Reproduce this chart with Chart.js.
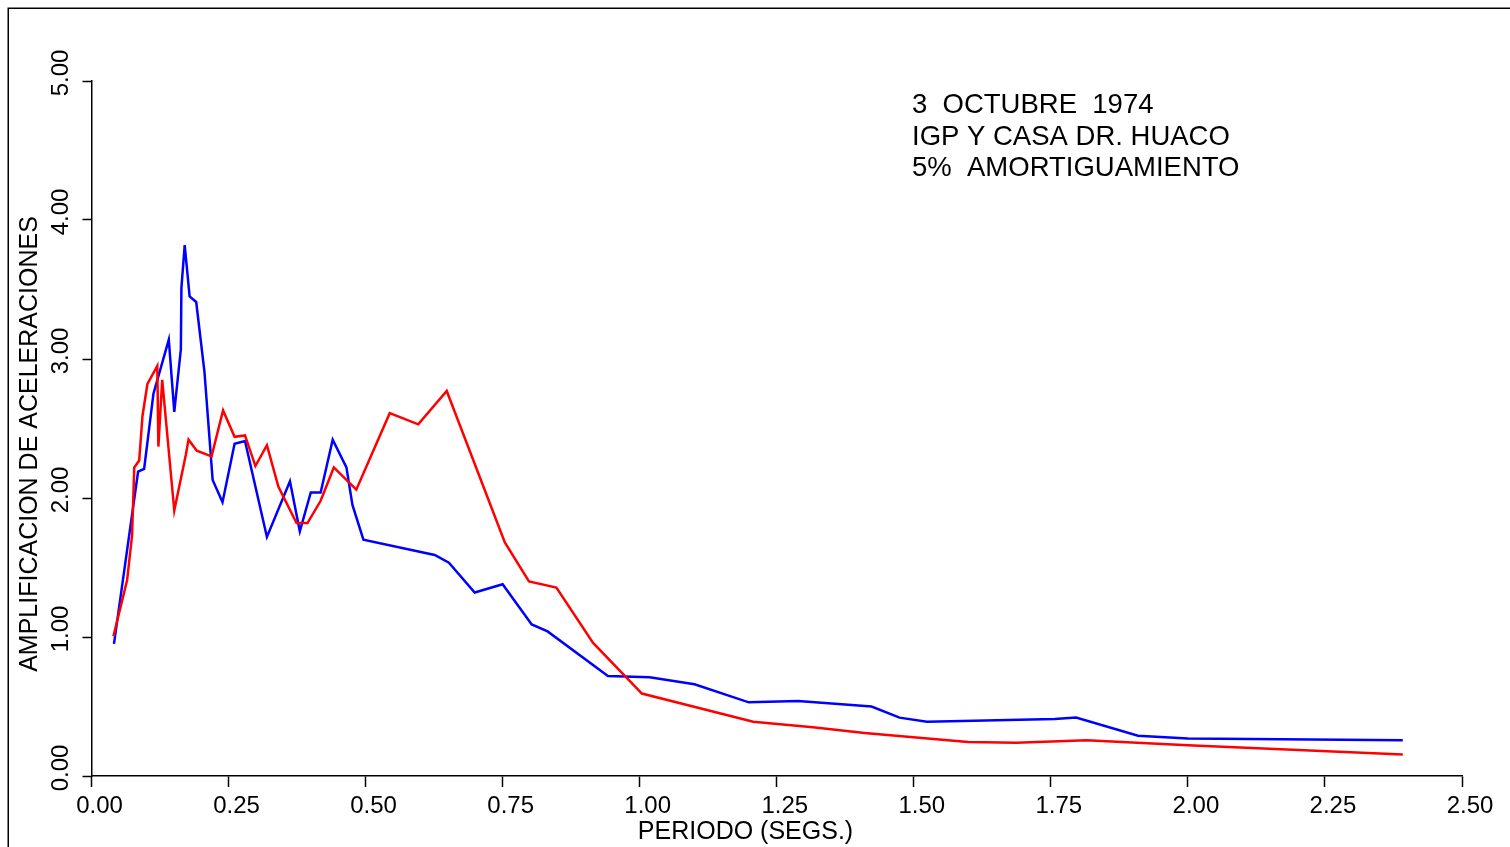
<!DOCTYPE html>
<html><head><meta charset="utf-8">
<script src="https://cdn.jsdelivr.net/npm/chart.js@4"></script>
<style>html,body{margin:0;padding:0;background:#fff;overflow:hidden}canvas{display:block}</style>
</head><body>
<canvas id="c" width="1510" height="847"></canvas>
<script>
// ---- data ----
const periodBlue = [0.041,0.085,0.096,0.113,0.141,0.151,0.163,0.164,0.170,0.179,0.191,0.206,0.221,0.239,0.261,0.280,0.320,0.362,0.380,0.400,0.418,0.440,0.465,0.476,0.496,0.626,0.652,0.699,0.750,0.803,0.832,0.942,1.018,1.100,1.199,1.289,1.423,1.474,1.524,1.757,1.796,1.909,2.000,2.392];
const amplBlue   = [0.95,2.19,2.21,2.75,3.14,2.62,3.07,3.51,3.82,3.45,3.41,2.91,2.13,1.97,2.39,2.41,1.72,2.12,1.76,2.04,2.04,2.42,2.22,1.95,1.70,1.59,1.535,1.32,1.38,1.09,1.04,0.72,0.71,0.66,0.53,0.54,0.50,0.42,0.39,0.41,0.42,0.29,0.269,0.257];
const periodRed  = [0.040,0.065,0.074,0.078,0.087,0.093,0.102,0.120,0.122,0.129,0.151,0.172,0.177,0.192,0.219,0.240,0.261,0.280,0.299,0.320,0.341,0.374,0.394,0.418,0.442,0.483,0.544,0.596,0.648,0.754,0.798,0.848,0.915,1.004,1.207,1.316,1.410,1.599,1.687,1.815,2.000,2.392];
const amplRed    = [1.005,1.41,1.73,2.22,2.27,2.59,2.82,2.95,2.37,2.85,1.91,2.31,2.42,2.34,2.30,2.63,2.44,2.45,2.23,2.38,2.08,1.82,1.82,1.98,2.22,2.06,2.61,2.53,2.77,1.68,1.40,1.355,0.957,0.593,0.39,0.35,0.31,0.245,0.24,0.257,0.221,0.154];

const xTickValues = [0,0.25,0.5,0.75,1,1.25,1.5,1.75,2,2.25,2.5];
const xTickLabels = ['0.00','0.25','0.50','0.75','1.00','1.25','1.50','1.75','2.00','2.25','2.50'];
const yTickValues = [0,1,2,3,4,5];
const yTickLabels = ['0.00','1.00','2.00','3.00','4.00','5.00'];
const xTitle = 'PERIODO (SEGS.)';
const yTitle = 'AMPLIFICACION DE ACELERACIONES';
const noteLines = ['3  OCTUBRE  1974','IGP Y CASA DR. HUACO','5%  AMORTIGUAMIENTO'];

const FONT = '"Liberation Sans", Arial, Helvetica, sans-serif';
const toXY = (xs, ys) => xs.map((x, i) => ({x, y: ys[i]}));

const deco = {
  id: 'deco',
  afterDraw(chart) {
    const ctx = chart.ctx, ys = chart.scales.y;
    ctx.save();
    ctx.strokeStyle = '#000'; ctx.lineWidth = 1.5;
    ctx.strokeRect(8.25, 8.25, 1700, 1000);
    ctx.fillStyle = '#000';
    ctx.textAlign = 'center'; ctx.textBaseline = 'middle';
    ctx.font = '24px ' + FONT;
    yTickValues.forEach((v, i) => {
      const py = ys.getPixelForValue(v) - 8;
      ctx.save(); ctx.translate(61, py); ctx.rotate(-Math.PI / 2);
      ctx.fillText(yTickLabels[i], 0, 0); ctx.restore();
    });
    ctx.font = '25px ' + FONT;
    ctx.save(); ctx.translate(30, 444); ctx.rotate(-Math.PI / 2);
    ctx.fillText(yTitle, 0, 0); ctx.restore();
    ctx.fillText(xTitle, 745.5, 832);
    ctx.font = '27.5px ' + FONT;
    ctx.textAlign = 'left'; ctx.textBaseline = 'middle';
    noteLines.forEach((t, i) => ctx.fillText(t, 912, 105.5 + i * 31.5));
    ctx.restore();
  }
};

new Chart(document.getElementById('c'), {
  type: 'line',
  data: {
    datasets: [
      {data: toXY(periodRed, amplRed), borderColor: '#ff0000', borderWidth: 2.5, pointRadius: 0, tension: 0, fill: false},
      {data: toXY(periodBlue, amplBlue), borderColor: '#0000ff', borderWidth: 2.5, pointRadius: 0, tension: 0, fill: false}
    ]
  },
  options: {
    responsive: false, animation: false, devicePixelRatio: 1,
    layout: {padding: {top: 81, right: 48, left: 0, bottom: 0}},
    plugins: {legend: {display: false}, tooltip: {enabled: false}},
    scales: {
      x: {
        type: 'linear', min: 0, max: 2.5,
        afterBuildTicks: s => { s.ticks = xTickValues.map(v => ({value: v})); },
        afterFit: s => { s.height = 71; },
        ticks: {autoSkip: false, maxRotation: 0, minRotation: 0, padding: 5, labelOffset: 8, color: '#000',
                font: {size: 24, family: FONT}, callback: (v, i) => xTickLabels[i]},
        grid: {display: true, drawOnChartArea: false, drawTicks: true, tickLength: 11, tickWidth: 1.5, tickColor: '#000'},
        border: {display: true, color: '#000', width: 1.5}
      },
      y: {
        type: 'linear', min: 0, max: 5,
        afterBuildTicks: s => { s.ticks = yTickValues.map(v => ({value: v})); },
        afterFit: s => { s.width = 91.5; },
        ticks: {display: false},
        grid: {display: true, drawOnChartArea: false, drawTicks: true, tickLength: 9, tickWidth: 1.5, tickColor: '#000'},
        border: {display: true, color: '#000', width: 1.5}
      }
    }
  },
  plugins: [deco]
});
</script>
</body></html>
